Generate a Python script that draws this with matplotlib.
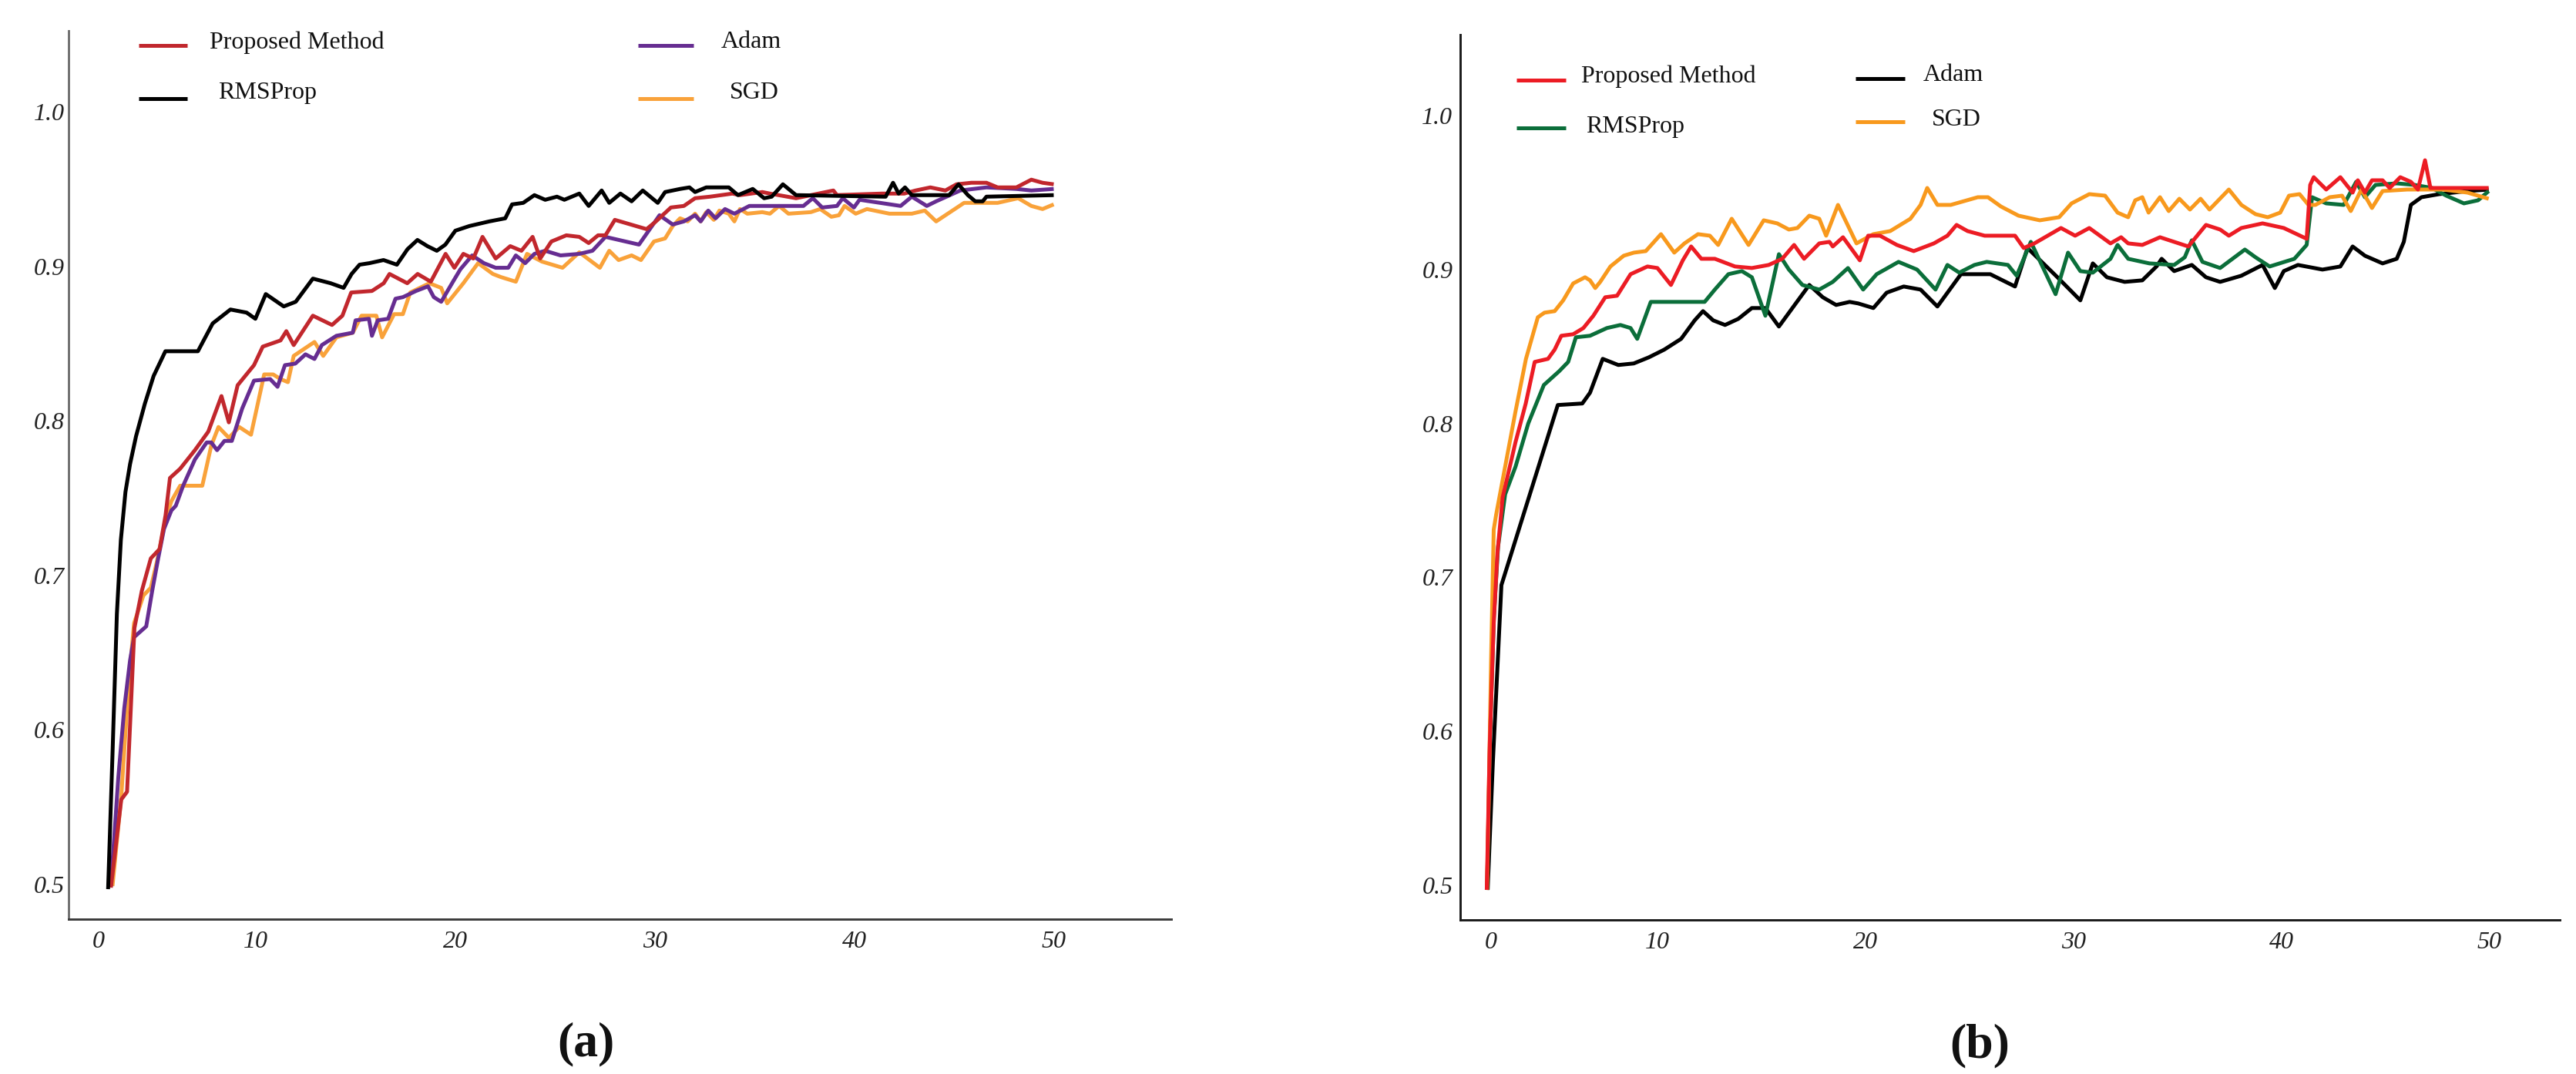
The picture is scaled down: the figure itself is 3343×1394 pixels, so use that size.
import matplotlib
matplotlib.use("Agg")
import matplotlib.pyplot as plt
from matplotlib.lines import Line2D

# ---------------- data: panel (a) ----------------
a_prop_x = [2.74,3.26,3.55,3.92,4.29,4.74,5.18,5.48,5.70,6.21,6.95,7.62,8.28,8.65,9.09,9.91,10.35,11.24,11.53,11.9,12.86,13.82,14.34,14.78,15.82,16.41,16.7,17.59,18.11,18.77,19.51,19.95,20.4,20.9,21.36,22.02,22.75,23.31,23.87,24.25,24.81,25.56,26.21,26.68,27.15,27.52,27.99,29.58,30.05,30.8,31.45,32.01,32.76,33.32,33.88,34.26,35.38,35.76,37.07,38.94,39.12,41.37,42.49,43.06,43.8,44.55,45.11,45.86,46.61,47.17,48.11,48.86,49.42,49.98]
a_prop_y = [0.498,0.555,0.560,0.666,0.690,0.711,0.717,0.739,0.763,0.769,0.781,0.793,0.816,0.799,0.823,0.836,0.848,0.852,0.858,0.849,0.868,0.862,0.868,0.883,0.884,0.889,0.895,0.889,0.895,0.890,0.908,0.899,0.908,0.905,0.919,0.905,0.913,0.910,0.919,0.905,0.916,0.920,0.919,0.915,0.920,0.920,0.930,0.924,0.929,0.938,0.939,0.944,0.945,0.946,0.947,0.946,0.948,0.947,0.944,0.949,0.946,0.947,0.947,0.949,0.951,0.949,0.953,0.954,0.954,0.951,0.951,0.956,0.954,0.953]

a_rms_x = [2.6,2.82,3.04,3.24,3.47,3.7,4.0,4.44,4.88,5.47,7.1,7.84,8.73,9.54,9.98,10.5,11.4,12.0,12.86,13.75,14.4,14.8,15.2,15.7,16.4,17.07,17.6,18.1,18.6,19.07,19.5,20.0,20.7,21.7,22.5,22.84,23.4,23.96,24.5,25.09,25.46,26.21,26.68,27.33,27.71,28.27,28.83,29.39,30.14,30.51,31.26,31.73,32.01,32.57,33.7,34.16,34.9,35.47,35.85,36.41,37.07,41.56,41.93,42.21,42.53,42.87,44.74,45.21,45.68,46.05,46.42,46.61,49.98]
a_rms_y = [0.497,0.584,0.675,0.723,0.754,0.772,0.790,0.811,0.829,0.845,0.845,0.863,0.872,0.870,0.866,0.882,0.874,0.877,0.892,0.889,0.886,0.895,0.901,0.902,0.904,0.901,0.911,0.917,0.913,0.910,0.914,0.923,0.926,0.929,0.931,0.940,0.941,0.946,0.943,0.945,0.943,0.947,0.939,0.949,0.941,0.947,0.942,0.949,0.941,0.948,0.950,0.951,0.948,0.951,0.951,0.946,0.950,0.944,0.945,0.953,0.946,0.945,0.954,0.947,0.951,0.946,0.946,0.953,0.946,0.942,0.942,0.945,0.946]

a_adam_x = [2.74,3.11,3.41,3.7,3.9,4.51,4.81,5.11,5.4,5.77,5.99,6.36,6.95,7.54,7.77,8.06,8.43,8.8,9.32,9.91,10.72,11.09,11.46,11.98,12.49,12.94,13.31,14.04,14.86,15.0,15.67,15.82,16.11,16.63,17.0,17.37,18.03,18.63,18.92,19.29,19.88,20.25,20.84,21.43,22.02,22.65,23.03,23.5,23.96,24.5,25.27,26.21,26.87,27.52,29.2,30.23,30.89,31.45,32.01,32.29,32.67,33.04,33.51,33.98,34.73,37.44,37.91,38.38,39.12,39.41,39.97,40.25,42.31,42.87,43.62,44.09,45.3,46.61,48.11,48.86,49.98]
a_adam_y = [0.499,0.569,0.614,0.645,0.660,0.667,0.690,0.711,0.730,0.742,0.745,0.758,0.775,0.786,0.786,0.781,0.787,0.787,0.808,0.826,0.827,0.822,0.836,0.837,0.843,0.840,0.849,0.855,0.857,0.865,0.866,0.855,0.865,0.866,0.879,0.880,0.884,0.887,0.880,0.877,0.890,0.898,0.907,0.902,0.899,0.899,0.907,0.902,0.908,0.910,0.907,0.908,0.910,0.919,0.914,0.933,0.927,0.929,0.933,0.929,0.936,0.931,0.937,0.934,0.939,0.939,0.944,0.938,0.939,0.944,0.938,0.943,0.939,0.945,0.939,0.942,0.949,0.951,0.950,0.949,0.950]

a_sgd_x = [2.82,3.26,3.63,3.9,4.37,4.74,5.03,5.48,5.77,6.21,7.32,7.77,8.13,8.65,9.17,9.76,10.42,10.87,11.24,11.61,11.9,12.94,13.38,14.04,14.86,15.3,16.04,16.33,16.93,17.37,17.74,18.7,19.29,19.59,20.4,21.14,21.88,22.28,23.03,23.59,24.34,25.37,26.21,27.24,27.71,28.18,28.83,29.3,29.95,30.51,30.89,31.26,31.64,32.01,32.29,32.57,32.95,33.23,33.7,33.98,34.26,34.63,35.38,35.76,36.22,36.69,37.81,38.28,38.84,39.22,39.5,40.06,40.62,41.75,42.87,43.52,44.09,45.49,47.17,48.2,48.86,49.42,49.98]
a_sgd_y = [0.499,0.557,0.630,0.669,0.687,0.692,0.708,0.736,0.748,0.758,0.758,0.784,0.796,0.789,0.796,0.791,0.830,0.830,0.827,0.825,0.842,0.851,0.842,0.854,0.857,0.868,0.868,0.854,0.869,0.869,0.883,0.889,0.886,0.876,0.889,0.902,0.895,0.893,0.890,0.908,0.903,0.899,0.909,0.899,0.910,0.904,0.907,0.904,0.916,0.918,0.926,0.931,0.929,0.934,0.929,0.935,0.930,0.936,0.934,0.929,0.937,0.934,0.935,0.934,0.939,0.934,0.935,0.937,0.932,0.933,0.939,0.934,0.937,0.934,0.934,0.936,0.929,0.941,0.941,0.944,0.939,0.937,0.940]

# ---------------- data: panel (b) ----------------
b_prop_x = [1.805,1.95,2.14,2.32,2.57,3.19,3.68,4.11,4.75,5.07,5.39,5.96,6.45,6.93,7.5,8.07,8.72,9.53,10.01,10.66,11.23,11.63,12.12,12.77,13.74,14.55,15.36,16.01,16.58,17.06,17.79,18.28,18.44,18.93,19.74,20.14,20.71,21.52,22.33,23.3,23.95,24.39,24.92,25.74,27.2,27.62,28.13,29.41,30.09,30.77,31.79,32.3,32.64,33.32,34.17,35.53,36.38,37.06,37.48,38.08,39.1,40.12,41.22,41.39,41.56,42.16,42.84,43.43,43.68,44.02,44.36,44.87,45.21,45.72,46.23,46.57,46.91,47.17,49.97]
b_prop_y = [0.497,0.592,0.670,0.716,0.752,0.788,0.813,0.840,0.842,0.848,0.857,0.858,0.862,0.870,0.882,0.883,0.897,0.902,0.901,0.890,0.906,0.915,0.907,0.907,0.902,0.901,0.903,0.907,0.916,0.907,0.917,0.918,0.915,0.921,0.906,0.922,0.922,0.916,0.912,0.917,0.922,0.929,0.925,0.922,0.922,0.914,0.917,0.927,0.922,0.927,0.917,0.921,0.917,0.916,0.921,0.915,0.929,0.926,0.922,0.927,0.930,0.927,0.920,0.955,0.960,0.952,0.960,0.950,0.958,0.950,0.958,0.958,0.953,0.960,0.957,0.952,0.971,0.953,0.953]

b_rms_x = [1.82,1.97,2.15,2.35,2.69,3.19,3.8,4.55,5.29,5.72,6.09,6.77,7.58,8.23,8.72,9.04,9.69,12.28,12.77,13.42,14.07,14.55,15.2,15.85,16.33,16.98,17.79,18.44,19.17,19.9,20.55,21.6,22.49,23.38,23.95,24.52,25.25,25.84,26.86,27.28,27.96,29.15,29.75,30.34,30.94,31.79,32.13,32.64,33.66,34.85,35.36,35.7,36.21,37.06,38.25,38.76,39.44,40.63,41.22,41.48,42.16,43.0,43.6,44.02,44.53,45.55,46.4,47.25,47.93,48.78,49.46,49.97]
b_rms_y = [0.497,0.600,0.675,0.720,0.754,0.772,0.800,0.825,0.834,0.840,0.856,0.857,0.862,0.864,0.862,0.855,0.879,0.879,0.887,0.897,0.899,0.895,0.870,0.910,0.900,0.890,0.887,0.892,0.901,0.887,0.897,0.905,0.900,0.887,0.903,0.898,0.903,0.905,0.903,0.896,0.918,0.884,0.911,0.899,0.898,0.907,0.916,0.907,0.904,0.903,0.908,0.919,0.905,0.901,0.913,0.908,0.902,0.907,0.916,0.947,0.943,0.942,0.957,0.947,0.955,0.956,0.955,0.953,0.948,0.943,0.945,0.951]

b_adam_x = [1.85,2.1,2.51,5.22,6.4,6.77,7.38,8.13,8.87,9.6,10.34,11.15,11.8,12.2,12.69,13.26,13.9,14.55,15.2,15.85,16.66,17.31,17.96,18.6,19.25,19.66,20.39,21.03,21.85,22.66,23.47,24.6,25.41,26.01,27.2,27.8,29.24,30.34,30.94,31.62,32.47,33.32,34.0,34.25,34.85,35.7,36.38,37.06,38.08,39.1,39.69,40.12,40.8,41.98,42.84,43.43,44.02,44.87,45.55,45.89,46.23,46.74,47.59,48.95,49.97]
b_adam_y = [0.497,0.580,0.695,0.812,0.813,0.820,0.842,0.838,0.839,0.843,0.848,0.855,0.867,0.873,0.867,0.864,0.868,0.875,0.875,0.863,0.878,0.890,0.882,0.877,0.879,0.878,0.875,0.885,0.889,0.887,0.876,0.897,0.897,0.897,0.889,0.914,0.895,0.880,0.904,0.895,0.892,0.893,0.902,0.907,0.899,0.903,0.895,0.892,0.896,0.903,0.888,0.899,0.903,0.900,0.902,0.915,0.909,0.904,0.907,0.918,0.942,0.947,0.949,0.951,0.952]

b_sgd_x = [1.82,1.93,2.01,2.14,2.26,2.69,3.19,3.69,4.26,4.58,5.07,5.48,5.96,6.53,6.77,7.02,7.26,7.75,8.39,8.88,9.45,10.18,10.82,11.31,11.96,12.53,12.93,13.58,14.39,15.12,15.77,16.33,16.74,17.31,17.79,18.12,18.69,19.58,20.39,21.2,22.17,22.66,22.98,23.47,24.11,25.41,25.9,26.52,27.37,28.39,29.32,29.92,30.77,31.53,32.13,32.64,32.98,33.32,33.62,34.17,34.59,35.1,35.61,36.12,36.55,37.48,38.08,38.76,39.35,39.95,40.37,40.88,41.31,41.64,42.33,42.92,43.34,43.85,44.36,44.87,46.06,46.91,47.76,48.95,49.97]
b_sgd_y = [0.497,0.580,0.644,0.731,0.741,0.772,0.808,0.842,0.869,0.872,0.873,0.880,0.891,0.895,0.893,0.888,0.892,0.902,0.909,0.911,0.912,0.923,0.911,0.917,0.923,0.922,0.916,0.933,0.916,0.932,0.930,0.926,0.927,0.935,0.933,0.922,0.942,0.917,0.923,0.925,0.933,0.942,0.953,0.942,0.942,0.947,0.947,0.941,0.935,0.932,0.934,0.943,0.949,0.948,0.937,0.934,0.945,0.947,0.937,0.947,0.938,0.946,0.939,0.946,0.939,0.952,0.942,0.936,0.934,0.937,0.948,0.949,0.942,0.942,0.947,0.948,0.938,0.952,0.940,0.951,0.952,0.952,0.952,0.950,0.946]

# tick positions / labels (the reference draws its "0" label near x = 2)
a_xtick_pos = [2.12, 10, 20, 30, 40, 50]
b_xtick_pos = [2.01, 10, 20, 30, 40, 50]
xtick_labels = ["0", "10", "20", "30", "40", "50"]
ytick_pos = [0.5, 0.6, 0.7, 0.8, 0.9, 1.0]
ytick_labels = ["0.5", "0.6", "0.7", "0.8", "0.9", "1.0"]

# ---------------- figure ----------------
W, H = 3343, 1394
fig = plt.figure(figsize=(W / 100, H / 100), dpi=100)
fig.patch.set_facecolor("white")

SERIF = ["Liberation Serif", "DejaVu Serif"]
LW = 3.6

def fx(px):
    return px / W

def fy(py):
    return 1 - py / H

def make_axes(left, top, right, bottom):
    return fig.add_axes([fx(left), fy(bottom), fx(right) - fx(left), fy(top) - fy(bottom)])

ax_a = make_axes(89, 40, 1520, 1193)
ax_b = make_axes(1895, 45, 3322, 1194)

a_colors = {"prop": "#C1272D", "rms": "#000000", "adam": "#662D91", "sgd": "#F9A23A"}
b_colors = {"prop": "#EC1C24", "rms": "#0B6E3A", "adam": "#000000", "sgd": "#F8991D"}

kw = dict(lw=LW, solid_joinstyle="round", solid_capstyle="butt")
ax_a.plot(a_sgd_x, a_sgd_y, color=a_colors["sgd"], **kw)
ax_a.plot(a_adam_x, a_adam_y, color=a_colors["adam"], **kw)
ax_a.plot(a_prop_x, a_prop_y, color=a_colors["prop"], **kw)
ax_a.plot(a_rms_x, a_rms_y, color=a_colors["rms"], **kw)

ax_b.plot(b_adam_x, b_adam_y, color=b_colors["adam"], **kw)
ax_b.plot(b_rms_x, b_rms_y, color=b_colors["rms"], **kw)
ax_b.plot(b_sgd_x, b_sgd_y, color=b_colors["sgd"], **kw)
ax_b.plot(b_prop_x, b_prop_y, color=b_colors["prop"], **kw)

ax_a.set_xlim(0.62, 55.87)
ax_a.set_ylim(0.4776, 1.0523)
ax_b.set_xlim(0.53, 53.39)
ax_b.set_ylim(0.4775, 1.0526)

spine_cols = {ax_a: ("#707070", "#3a3a3a"), ax_b: ("#1a1a1a", "#1a1a1a")}
for ax, xt, ypad in ((ax_a, a_xtick_pos, 3.5), (ax_b, b_xtick_pos, 7.0)):
    ax.set_facecolor("white")
    for s in ("top", "right"):
        ax.spines[s].set_visible(False)
    lc, bc = spine_cols[ax]
    ax.spines["left"].set_color(lc)
    ax.spines["bottom"].set_color(bc)
    for s in ("left", "bottom"):
        ax.spines[s].set_linewidth(2.1)
    ax.set_xticks(xt)
    ax.set_xticklabels(xtick_labels)
    ax.set_yticks(ytick_pos)
    ax.set_yticklabels(ytick_labels)
    ax.tick_params(axis="both", length=0, colors="#222222")
    ax.tick_params(axis="x", pad=11)
    ax.tick_params(axis="y", pad=ypad)
    for lab in ax.get_xticklabels() + ax.get_yticklabels():
        lab.set_family(SERIF)
        lab.set_style("italic")
        lab.set_fontsize(23)

# ---------------- manual legends (figure pixel coords) ----------------
def legend_entry(x0, x1, yline, text, tx, tbase, color):
    fig.add_artist(Line2D([fx(x0), fx(x1)], [fy(yline), fy(yline)],
                          transform=fig.transFigure, color=color, lw=3.6,
                          solid_capstyle="butt"))
    fig.text(fx(tx), fy(tbase), text, family=SERIF, fontsize=23,
             ha="left", va="baseline", color="#111111")

legend_entry(180, 243, 59, "Proposed Method", 272, 63, a_colors["prop"])
legend_entry(180, 243, 128, "RMSProp", 283, 128, a_colors["rms"])
legend_entry(828, 900, 59, "Adam", 936, 62, a_colors["adam"])
legend_entry(828, 900, 128, "SGD", 947, 128, a_colors["sgd"])

legend_entry(1968, 2032, 104, "Proposed Method", 2052, 107, b_colors["prop"])
legend_entry(1968, 2032, 166, "RMSProp", 2058, 172, b_colors["rms"])
legend_entry(2408, 2472, 102, "Adam", 2496, 105, b_colors["adam"])
legend_entry(2408, 2472, 158, "SGD", 2507, 163, b_colors["sgd"])

# ---------------- panel captions ----------------
fig.text(fx(760), fy(1355), "(a)", family=SERIF, fontsize=46, fontweight="bold",
         ha="center", va="center", color="#111111")
fig.text(fx(2569), fy(1357), "(b)", family=SERIF, fontsize=46, fontweight="bold",
         ha="center", va="center", color="#111111")

fig.savefig("out.png", dpi=100, facecolor="white")
